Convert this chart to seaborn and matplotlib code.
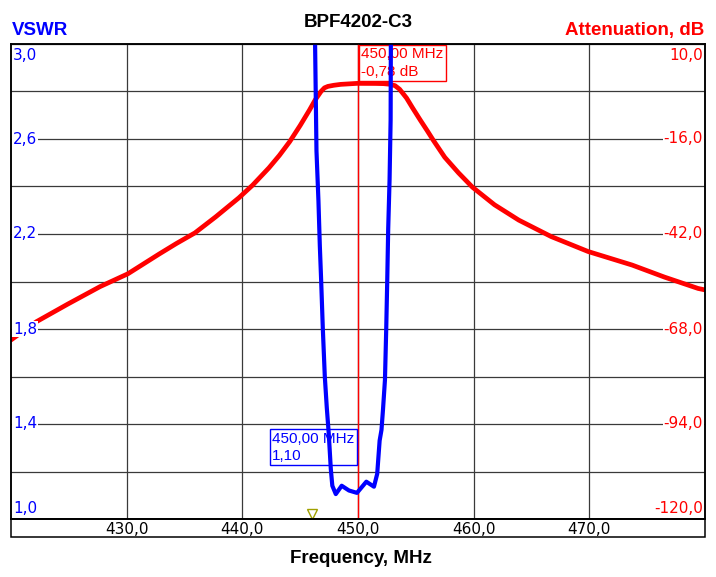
import matplotlib
matplotlib.use("Agg")
import matplotlib.pyplot as plt
import seaborn as sns
from matplotlib.patches import Rectangle
from matplotlib import transforms

# ---------- data ----------
att_freq = [420.0, 422.2, 424.9, 427.7, 430.1, 432.8, 434.3, 435.9, 437.7, 439.7,
            440.9, 442.3, 443.2, 444.1, 445.0, 445.8, 446.3, 446.8, 447.1, 447.4,
            447.9, 448.5, 449.9, 451.5, 452.2, 452.7, 453.2, 453.6, 454.2, 454.7,
            455.4, 456.0, 456.5, 457.5, 458.7, 459.9, 461.8, 463.9, 466.7, 469.9,
            473.7, 476.5, 479.4, 480.0]
att_db = [-71.0, -66.0, -61.2, -56.4, -52.9, -47.5, -44.6, -41.7, -37.3, -32.1,
          -28.6, -23.9, -20.5, -16.7, -12.3, -8.1, -5.3, -3.0, -2.0, -1.6,
          -1.3, -1.05, -0.78, -0.8, -0.85, -1.0, -1.4, -2.4, -4.8, -7.4,
          -10.9, -13.8, -16.3, -21.0, -25.3, -29.2, -34.0, -38.2, -42.7, -46.8,
          -50.5, -53.8, -56.9, -57.3]

vswr_freq = [446.25, 446.29, 446.41, 446.58, 446.70, 446.81, 446.96, 447.13, 447.30, 447.47,
             447.65, 447.78, 448.08, 448.59, 449.22, 449.91, 450.72, 451.38, 451.66, 451.87,
             452.03, 452.16, 452.33, 452.44, 452.53, 452.61, 452.73, 452.82, 452.84, 452.89]
vswr = [3.10, 3.00, 2.55, 2.34, 2.15, 2.01, 1.80, 1.60, 1.47, 1.36,
        1.21, 1.14, 1.105, 1.14, 1.12, 1.11, 1.157, 1.136, 1.19, 1.33,
        1.375, 1.46, 1.585, 1.80, 2.01, 2.22, 2.43, 2.68, 3.00, 3.10]

x_ticks = [430, 440, 450, 460, 470]
vswr_labels = [1.0, 1.4, 1.8, 2.2, 2.6, 3.0]
att_labels = [-120, -94, -68, -42, -16, 10]
marker_freq = 450.0
marker_att = -0.78
marker_vswr = 1.10
flag_freq = 446.06

RED = "#ff0000"
BLUE = "#0000ff"

sns.set_theme(style="white")
plt.rcParams["font.family"] = ["DejaVu Sans"]

W, H = 716, 577
fig = plt.figure(figsize=(W / 100, H / 100), dpi=100)
L, R, T, B = 11, 705, 44, 519
ax = fig.add_axes([L / W, 1 - B / H, (R - L) / W, (B - T) / H])
ax2 = ax.twinx()

# attenuation on the primary axes (grid lives here), VSWR on the twin so it sits on top
sns.lineplot(x=att_freq, y=att_db, ax=ax, color=RED, linewidth=3.4)
sns.lineplot(x=vswr_freq, y=vswr, ax=ax2, color=BLUE, linewidth=3.0)

ax.set_xlim(420, 480)
ax.set_ylim(-120, 10)
ax2.set_ylim(1.0, 3.0)

ax.set_xticks(x_ticks)
ax.set_xticklabels([f"{t:.1f}".replace(".", ",") for t in x_ticks], fontsize=11)
ax.set_yticks(list(range(-120, 11, 13)))
ax.set_yticklabels([])
ax2.set_yticks([])
ax.tick_params(axis="x", length=0, pad=2, colors="black")
ax.tick_params(axis="y", length=0)
ax.grid(True, color="#3a3a3a", linewidth=0.9)
ax.set_xlabel("")
ax.set_ylabel("")
ax2.set_ylabel("")
for a in (ax, ax2):
    for sp in a.spines.values():
        sp.set_color("black")
        sp.set_linewidth(1.1)

# marker line
ax.axvline(marker_freq, color=RED, linewidth=1.0, zorder=3)

# y labels drawn inside the plot with white backs (end labels nudged inwards)
lab_box = dict(facecolor="white", edgecolor="none", pad=0.5)
tl = transforms.blended_transform_factory(ax2.transAxes, ax2.transData)
for v in vswr_labels:
    if v == vswr_labels[-1]:
        va, dy = "top", -3
    elif v == vswr_labels[0]:
        va, dy = "bottom", 2
    else:
        va, dy = "center", 0
    ax2.annotate(f"{v:.1f}".replace(".", ","), xy=(0.0, v), xycoords=tl,
                 xytext=(1.5, dy), textcoords="offset points", ha="left", va=va,
                 color=BLUE, fontsize=11, bbox=lab_box, zorder=10)
tr = transforms.blended_transform_factory(ax2.transAxes, ax.transData)
for d in att_labels:
    if d == att_labels[-1]:
        va, dy = "top", -3
    elif d == att_labels[0]:
        va, dy = "bottom", 2
    else:
        va, dy = "center", 0
    ax2.annotate(f"{d:.1f}".replace(".", ","), xy=(1.0, d), xycoords=tr,
                 xytext=(-1.5, dy), textcoords="offset points", ha="right", va=va,
                 color=RED, fontsize=11, bbox=lab_box, zorder=10)

# marker read-outs
ax.annotate(f"{marker_freq:.2f} MHz\n{marker_att:.2f} dB".replace(".", ","),
            xy=(marker_freq, 10), xytext=(2.5, -2.5), textcoords="offset points",
            ha="left", va="top", multialignment="left", color=RED, fontsize=11,
            family="Liberation Sans", linespacing=1.3,
            bbox=dict(boxstyle="square,pad=0.14", facecolor="none", edgecolor=RED, linewidth=1))
ax2.annotate(f"{marker_freq:.2f} MHz\n{marker_vswr:.2f}".replace(".", ","),
             xy=(marker_freq, 1.383), xytext=(-2.5, -2.5), textcoords="offset points",
             ha="right", va="top", multialignment="left", color=BLUE, fontsize=11,
             family="Liberation Sans", linespacing=1.3,
             bbox=dict(boxstyle="square,pad=0.14", facecolor="none", edgecolor=BLUE, linewidth=1))

# small flag at the bottom
tf = transforms.blended_transform_factory(ax2.transData, ax2.transAxes)
ax2.plot([flag_freq], [0.01], marker="v", markersize=7, markerfacecolor="none",
         markeredgecolor="#a0a000", markeredgewidth=1, transform=tf, clip_on=False)

# strip holding the x tick labels
fig.add_artist(Rectangle((L / W, 1 - 537 / H), (R - L) / W, (537 - B) / H,
                         transform=fig.transFigure, fill=False, edgecolor="black", linewidth=1.1))

bold = dict(family="Liberation Sans", fontweight="bold", fontsize=13.5)
fig.text(358 / W, 1 - 27 / H, "BPF4202-C3", ha="center", va="baseline", color="black", **bold)
fig.text(12 / W, 1 - 35 / H, "VSWR", ha="left", va="baseline", color=BLUE, **bold)
fig.text(704 / W, 1 - 35 / H, "Attenuation, dB", ha="right", va="baseline", color=RED, **bold)
fig.text(361 / W, 1 - 563 / H, "Frequency, MHz", ha="center", va="baseline", color="black", **bold)

fig.savefig("out.png", dpi=100, facecolor="white")
